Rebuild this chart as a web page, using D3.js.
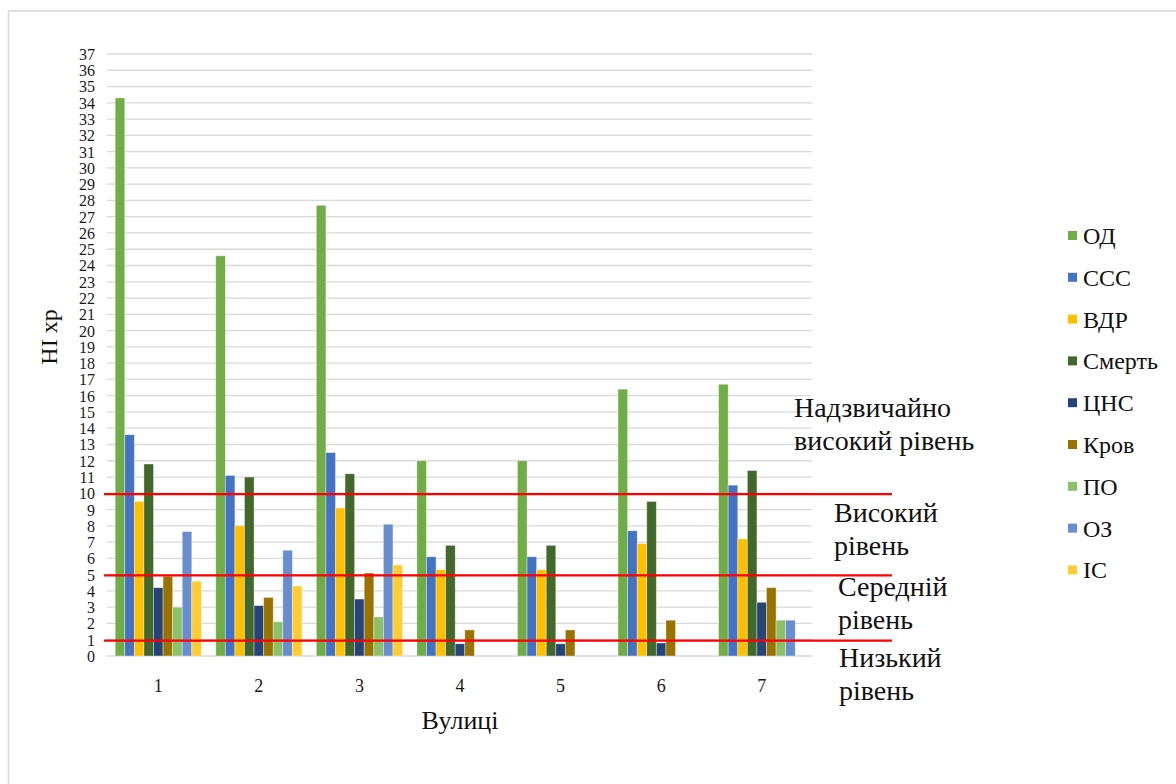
<!DOCTYPE html>
<html>
<head>
<meta charset="utf-8">
<script src="https://cdn.jsdelivr.net/npm/d3@7/dist/d3.min.js"></script>
<style>
  html, body { margin: 0; padding: 0; background: #fff; }
  svg { display: block; }
</style>
</head>
<body>
<svg id="chart" width="1176" height="784"></svg>
<script>
const FONT = "Liberation Serif";

// Streets (x categories)
const streets = ["1", "2", "3", "4", "5", "6", "7"];

// Hazard series names and colours
const seriesNames = ["ОД", "ССС", "ВДР", "Смерть", "ЦНС", "Кров", "ПО", "ОЗ", "ІС"];
const seriesColors = ["#70ad47", "#4472c4", "#ffc000", "#43682b", "#264478", "#997300", "#8cc168", "#698ed0", "#ffcd33"];

// HI values per series, one entry per street
const valОД     = [34.3, 24.6, 27.7, 12.0, 12.0, 16.4, 16.7];
const valССС    = [13.6, 11.1, 12.5, 6.1, 6.1, 7.7, 10.5];
const valВДР    = [9.5, 8.0, 9.1, 5.3, 5.3, 6.9, 7.2];
const valСмерть = [11.8, 11.0, 11.2, 6.8, 6.8, 9.5, 11.4];
const valЦНС    = [4.2, 3.1, 3.5, 0.75, 0.75, 0.8, 3.3];
const valКров   = [4.9, 3.6, 5.1, 1.6, 1.6, 2.2, 4.2];
const valПО     = [3.0, 2.1, 2.4, 0, 0, 0, 2.2];
const valОЗ     = [7.65, 6.5, 8.1, 0, 0, 0, 2.2];
const valІС     = [4.6, 4.3, 5.6, 0, 0, 0, 0];
const seriesValues = [valОД, valССС, valВДР, valСмерть, valЦНС, valКров, valПО, valОЗ, valІС];

// Y ticks and risk level thresholds
const yTicks = d3.range(0, 38);
const levelLines = [10, 5, 1];
const levelLabels = [
  { lines: ["Надзвичайно", "високий рівень"], x: 794, y: 417 },
  { lines: ["Високий", "рівень"], x: 834, y: 522 },
  { lines: ["Середній", "рівень"], x: 838, y: 596 },
  { lines: ["Низький", "рівень"], x: 839, y: 667 }
];

const svg = d3.select("#chart")
  .attr("font-family", FONT);

// Outer frame
svg.append("rect")
  .attr("x", 8.5).attr("y", 11).attr("width", 1200).attr("height", 800)
  .attr("fill", "none").attr("stroke", "#d9d9d9").attr("stroke-width", 1.6);

const plot = { left: 108, right: 812, top: 54, bottom: 656 };

const y = d3.scaleLinear().domain([0, 37]).range([plot.bottom, plot.top]);
const x0 = d3.scaleBand().domain(streets).range([plot.left, plot.right]).padding(0);
const x1 = d3.scaleBand().domain(seriesNames).range([0, x0.bandwidth()])
  .paddingInner(0).paddingOuter(0.75);

// Horizontal gridlines
svg.append("g").selectAll("line").data(yTicks).join("line")
  .attr("x1", plot.left - 1).attr("x2", plot.right)
  .attr("y1", d => y(d)).attr("y2", d => y(d))
  .attr("stroke", "#d9d9d9").attr("stroke-width", 1.3);

// Y axis tick labels
const yAxis = d3.axisLeft(y).tickValues(yTicks).tickSize(0).tickPadding(0);
svg.append("g").attr("transform", `translate(${plot.left - 13},0)`).call(yAxis)
  .attr("font-family", FONT).attr("font-size", 16)
  .call(g => g.select(".domain").remove())
  .call(g => g.selectAll("text").attr("fill", "#1a1a1a").attr("dy", "0.34em"));

// X axis labels
const xAxis = d3.axisBottom(x0).tickSize(0).tickPadding(0);
svg.append("g").attr("transform", `translate(0,${plot.bottom + 23})`).call(xAxis)
  .attr("font-family", FONT).attr("font-size", 18)
  .call(g => g.select(".domain").remove())
  .call(g => g.selectAll("text").attr("fill", "#1a1a1a").attr("dy", "0.71em"));

// Bars
const groups = svg.append("g").selectAll("g").data(streets).join("g")
  .attr("transform", d => `translate(${x0(d)},0)`);
groups.selectAll("rect")
  .data((d, i) => seriesNames.map((s, k) => ({ s, k, v: seriesValues[k][i] })))
  .join("rect")
  .filter(d => d.v > 0)
  .attr("x", d => x1(d.s))
  .attr("width", x1.bandwidth())
  .attr("y", d => y(d.v))
  .attr("height", d => y(0) - y(d.v))
  .attr("fill", d => seriesColors[d.k])
  .attr("stroke", "#ffffff").attr("stroke-opacity", 0.45).attr("stroke-width", 0.8);

// Risk level lines
svg.append("g").selectAll("line").data(levelLines).join("line")
  .attr("x1", 104).attr("x2", 892)
  .attr("y1", d => y(d) + 0.8).attr("y2", d => y(d) + 0.8)
  .attr("stroke", "#ff0000").attr("stroke-width", 2.2);

// Risk level labels
const lbl = svg.append("g").selectAll("text").data(levelLabels).join("text")
  .attr("x", d => d.x).attr("y", d => d.y)
  .attr("font-family", FONT).attr("font-size", 28).attr("fill", "#111");
lbl.selectAll("tspan").data(d => d.lines.map((t, i) => ({ t, i, x: d.x }))).join("tspan")
  .attr("x", d => d.x).attr("dy", d => d.i === 0 ? 0 : 32.5)
  .text(d => d.t);

// Axis titles
svg.append("text")
  .attr("transform", "translate(57,337) rotate(-90)")
  .attr("text-anchor", "middle")
  .attr("font-family", FONT).attr("font-size", 24).attr("fill", "#111")
  .text("НІ хр");
svg.append("text")
  .attr("x", 460).attr("y", 729)
  .attr("text-anchor", "middle")
  .attr("font-family", FONT).attr("font-size", 26).attr("fill", "#111")
  .text("Вулиці");

// Legend
const legend = svg.append("g").selectAll("g").data(seriesNames).join("g")
  .attr("transform", (d, i) => `translate(1068,${236 + i * 41.8})`);
legend.append("rect")
  .attr("x", 0).attr("y", -5).attr("width", 9).attr("height", 9)
  .attr("fill", (d, i) => seriesColors[i]);
legend.append("text")
  .attr("x", 15).attr("y", 8)
  .attr("font-family", FONT).attr("font-size", 24).attr("fill", "#111")
  .text(d => d);
</script>
</body>
</html>
